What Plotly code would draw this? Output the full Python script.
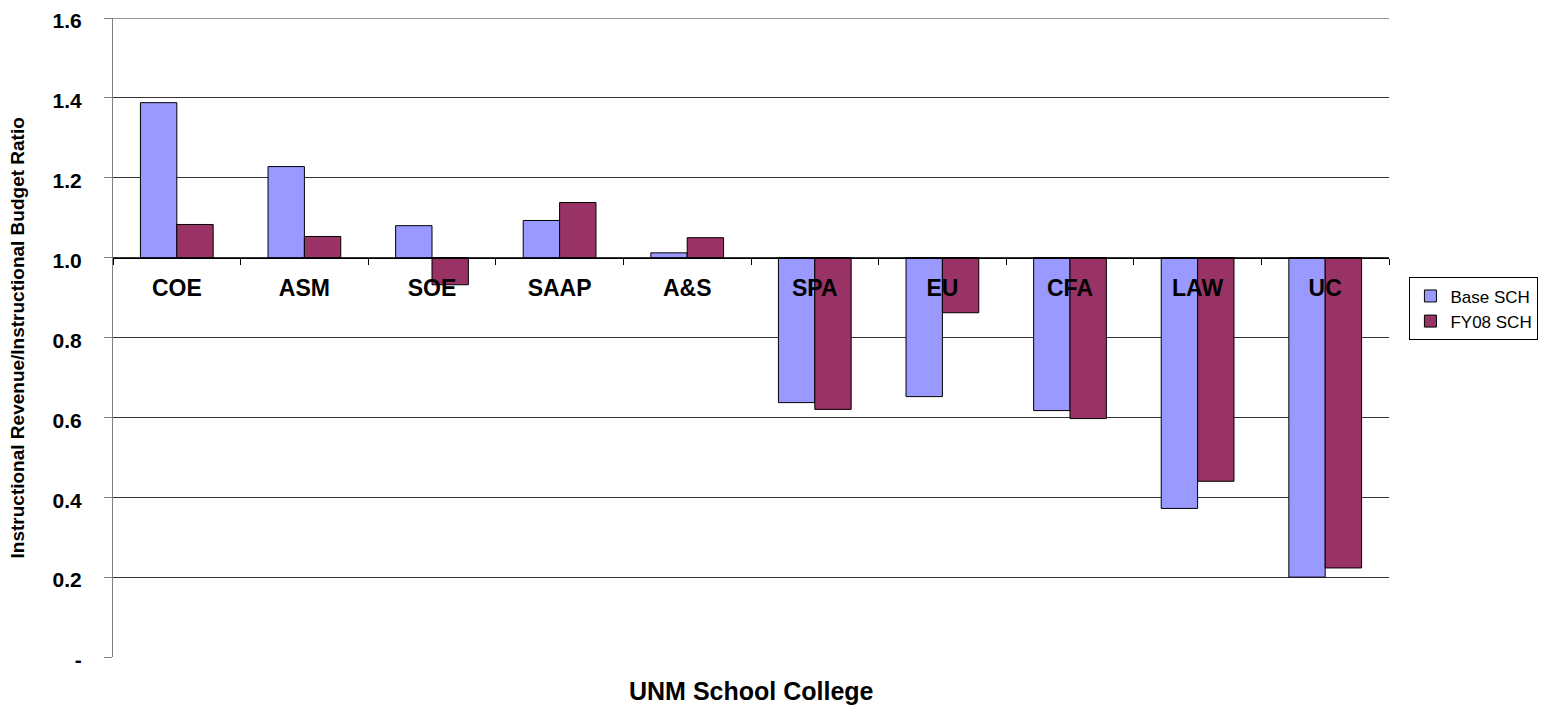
import plotly.graph_objects as go

categories = ["COE", "ASM", "SOE", "SAAP", "A&S", "SPA", "EU", "CFA", "LAW", "UC"]
base_sch = [1.388, 1.228, 1.080, 1.093, 1.012, 0.637, 0.652, 0.617, 0.372, 0.200]
fy08_sch = [1.083, 1.053, 0.932, 1.138, 1.050, 0.620, 0.862, 0.597, 0.440, 0.223]
y_tickvals = [0, 0.2, 0.4, 0.6, 0.8, 1.0, 1.2, 1.4, 1.6]
y_ticktext = ["-", "0.2", "0.4", "0.6", "0.8", "1.0", "1.2", "1.4", "1.6"]
axis_cross = 1.0
y_max = 1.6

FONT = "Liberation Sans, Arial, sans-serif"

fig = go.Figure()
fig.add_trace(go.Bar(
    name="Base SCH", x=categories, y=[v - axis_cross for v in base_sch], base=axis_cross,
    marker=dict(color="#9999FF", line=dict(color="#000000", width=1)),
    legendgroup="a",
))
fig.add_trace(go.Bar(
    name="FY08 SCH", x=categories, y=[v - axis_cross for v in fy08_sch], base=axis_cross,
    marker=dict(color="#993366", line=dict(color="#000000", width=1)),
    legendgroup="b",
))

# top gridline (plotly skips the gridline lying on the range edge)
fig.add_shape(type="line", xref="paper", yref="y", x0=-8 / 1276, x1=1, y0=y_max, y1=y_max,
              line=dict(color="#333333", width=1), layer="below")

fig.update_layout(
    width=1541, height=698,
    margin=dict(l=105, r=160, t=10, b=49, autoexpand=False),
    paper_bgcolor="white", plot_bgcolor="white",
    barmode="group", bargap=0.43, bargroupgap=0,
    font=dict(family=FONT, color="black"),
    showlegend=True,
    legend=dict(
        x=1.016, y=0.594, xanchor="left", yanchor="top",
        bordercolor="black", borderwidth=1, bgcolor="white",
        font=dict(family=FONT, size=17, color="black"),
        traceorder="grouped", tracegroupgap=0,
    ),
    xaxis=dict(
        type="category", automargin=False,
        anchor="free", position=axis_cross / y_max,
        showline=True, linecolor="black", linewidth=1,
        ticks="outside", tickson="boundaries", ticklen=6, tickcolor="black",
        tickfont=dict(family=FONT, size=23, color="black", weight="bold"),
        ticklabelstandoff=10,
        showgrid=False, zeroline=False,
    ),
    yaxis=dict(
        range=[0, y_max], domain=[0, 1], automargin=False,
        tickvals=y_tickvals, ticktext=y_ticktext,
        tickfont=dict(family=FONT, size=21, color="black", weight="bold"),
        ticklabeloverflow="allow", ticklabelshift=3,
        showline=True, linecolor="#808080", linewidth=1,
        ticks="outside", ticklen=8, tickcolor="#808080",
        ticklabelstandoff=18,
        showgrid=True, gridcolor="#333333", gridwidth=1,
        zeroline=False,
    ),
    annotations=[
        dict(text="<b>UNM School College</b>", xref="paper", yref="paper",
             x=0.5, y=-0.053, xanchor="center", yanchor="middle", showarrow=False,
             font=dict(family=FONT, size=25, color="black")),
        dict(text="<b>Instructional Revenue/Instructional Budget Ratio</b>", xref="paper", yref="paper",
             x=-0.0745, y=0.5, xanchor="center", yanchor="middle", showarrow=False, textangle=-90,
             font=dict(family=FONT, size=19, color="black")),
    ],
)

fig.write_html("out.html")
